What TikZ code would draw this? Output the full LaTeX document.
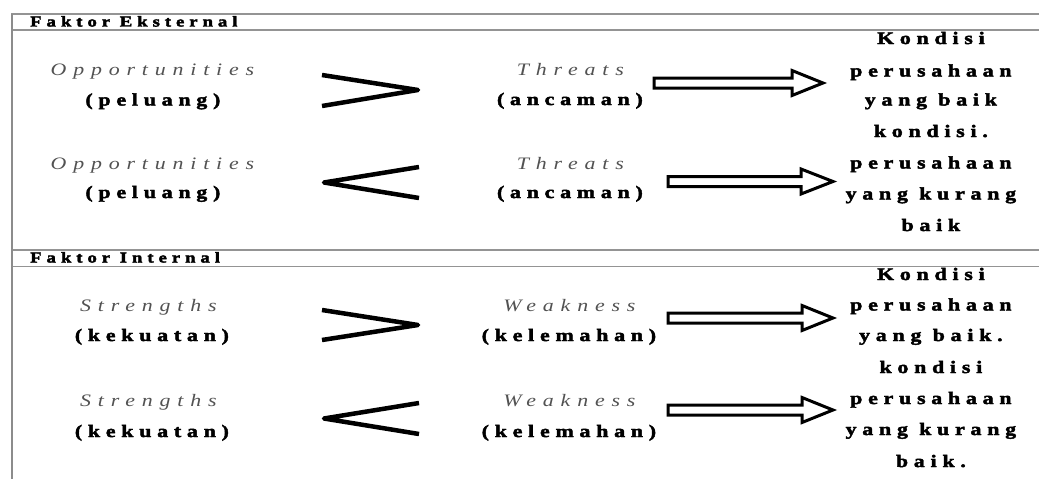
\documentclass[tikz,border=0pt]{standalone}
\usepackage{fontspec}
\setmainfont{Liberation Serif}
% widely tracked, stretched faces for all labels
\newfontfamily\widebf{Liberation Serif Bold}[FakeStretch=1.25,LetterSpace=33,FakeBold=2.5]
\newfontfamily\wideit{Liberation Serif Italic}[FakeStretch=1.25,LetterSpace=39]

\newcommand\blockarrow[4]{% tail x, head base x, tip x, centre y
  \draw[hollow] (#1,#4-5) -- (#2,#4-5) -- (#2,#4-12.5) -- (#3,#4)
    -- (#2,#4+12.5) -- (#2,#4+5) -- (#1,#4+5) -- cycle;}

\begin{document}
\begin{tikzpicture}[x=1pt,y=-1pt,
  rule/.style={draw=black!42,line width=1.4pt},
  frame/.style={draw=black!45,line width=2.2pt},
  head/.style={anchor=base west,inner sep=0pt,font=\widebf\fontsize{15}{18}\selectfont},
  term/.style={anchor=base,inner sep=0pt,xshift=3.4pt,text=black!68,font=\wideit\fontsize{17.5}{21}\selectfont},
  gloss/.style={anchor=base,inner sep=0pt,xshift=2.9pt,font=\widebf\fontsize{17.5}{21}\selectfont},
  result/.style={anchor=base,inner sep=0pt,xshift=2.9pt,font=\widebf\fontsize{17.5}{21}\selectfont},
  rel/.style={draw=black,line width=4.5pt,line join=round},
  hollow/.style={draw=black,line width=3pt,fill=white,line join=miter}]
\useasboundingbox[fill=white] (0,0) rectangle (1039,479);

% table rules
\draw[rule] (11,14) -- (1039,14);
\draw[rule] (11,30) -- (1039,30);
\draw[rule] (11,250) -- (1039,250);
\draw[rule] (11,266.5) -- (1039,266.5);
\draw[frame] (12,13.5) -- (12,479);

% section headers
\node[head] (hEks) at (30,26.5) {Faktor Eksternal};
\node[head] (hInt) at (30,262.5) {Faktor Internal};

% external factor rows
\node[term]  (o1) at (149,75)  {Opportunities};
\node[gloss] (p1) at (150,105.5) {(peluang)};
\node[term]  (t1) at (567,75)  {Threats};
\node[gloss] (a1) at (567,105) {(ancaman)};
\node[term]  (o2) at (149,169) {Opportunities};
\node[gloss] (p2) at (150,198) {(peluang)};
\node[term]  (t2) at (567,169) {Threats};
\node[gloss] (a2) at (567,198) {(ancaman)};

% internal factor rows
\node[term]  (s1) at (145,311) {Strengths};
\node[gloss] (k1) at (149,341) {(kekuatan)};
\node[term]  (w1) at (566,311) {Weakness};
\node[gloss] (l1) at (566,341) {(kelemahan)};
\node[term]  (s2) at (145,406) {Strengths};
\node[gloss] (k2) at (149,437) {(kekuatan)};
\node[term]  (w2) at (566,406) {Weakness};
\node[gloss] (l2) at (566,437) {(kelemahan)};

% comparison signs
\draw[rel] (322,75) -- (418,90) -- (322,106);
\draw[rel] (419,167) -- (324,182.5) -- (419,198);
\draw[rel] (322,310) -- (418,325) -- (322,340);
\draw[rel] (419,403) -- (324,418.5) -- (419,434);

% outcome arrows
\blockarrow{654}{792}{823}{83}
\blockarrow{668}{801}{833}{181.5}
\blockarrow{668}{802}{833}{318}
\blockarrow{668}{802}{833}{410}

% outcomes, external
\node[result] (re1) at (928,44)    {Kondisi};
\node[result] (re2) at (928,76.5)  {perusahaan};
\node[result] (re3) at (928,105.5) {yang baik};
\node[result] (re4) at (928,137)   {kondisi.};
\node[result] (re5) at (928,168.5) {perusahaan};
\node[result] (re6) at (928,199.5) {yang kurang};
\node[result] (re7) at (928,231)   {baik};

% outcomes, internal
\node[result] (ri1) at (928,280) {Kondisi};
\node[result] (ri2) at (928,310.5) {perusahaan};
\node[result] (ri3) at (928,341) {yang baik.};
\node[result] (ri4) at (928,373) {kondisi};
\node[result] (ri5) at (928,404) {perusahaan};
\node[result] (ri6) at (928,435) {yang kurang};
\node[result] (ri7) at (928,467) {baik.};
\end{tikzpicture}
\end{document}
